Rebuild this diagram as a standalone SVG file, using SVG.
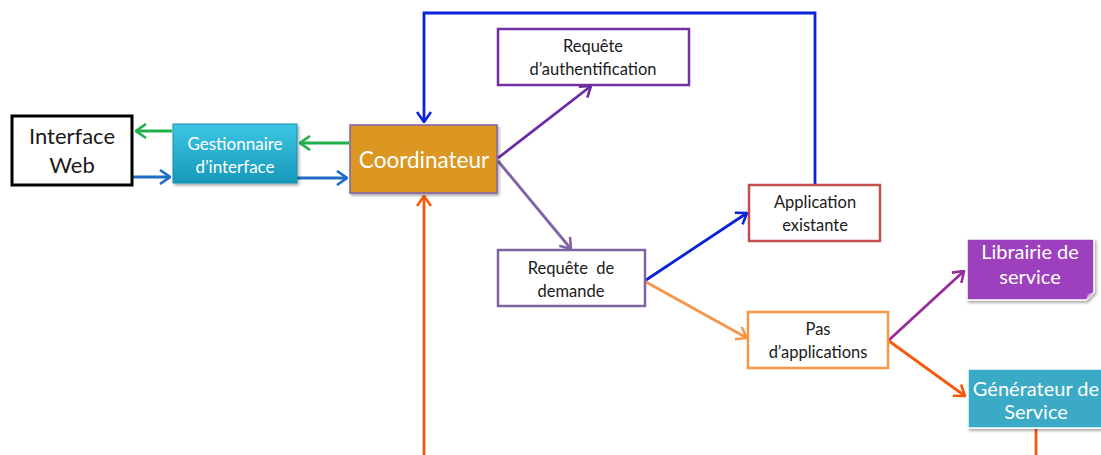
<svg xmlns="http://www.w3.org/2000/svg" width="1101" height="455" viewBox="0 0 1101 455">
  <defs>
    <style>
      text { font-family: Lato, "Open Sans", "Liberation Sans", sans-serif; text-anchor: middle; }
      .dark { fill: #1a1a1a; font-size: 16.5px; }
      .white { fill: #ffffff; }
      .box { fill: #ffffff; stroke-width: 2.5; }
      .edge { fill: none; stroke-width: 2.8; }
    </style>
    <linearGradient id="cyanGrad" x1="0" y1="0" x2="0" y2="1">
      <stop offset="0" stop-color="#3cc6e4"/>
      <stop offset="1" stop-color="#1898ba"/>
    </linearGradient>
    <filter id="shadow" x="-10%" y="-10%" width="130%" height="140%">
      <feDropShadow dx="1.5" dy="2" stdDeviation="1.8" flood-color="#000" flood-opacity="0.35"/>
    </filter>
    <marker id="aGreen" viewBox="0 0 12 16" markerWidth="12" markerHeight="16" refX="11" refY="8" orient="auto" markerUnits="userSpaceOnUse">
      <path d="M1,1 L11,8 L1,15" fill="none" stroke="#1fb04a" stroke-width="2.6"/>
    </marker>
    <marker id="aBlueMid" viewBox="0 0 12 16" markerWidth="12" markerHeight="16" refX="11" refY="8" orient="auto" markerUnits="userSpaceOnUse">
      <path d="M1,1 L11,8 L1,15" fill="none" stroke="#1f6cc4" stroke-width="2.6"/>
    </marker>
    <marker id="aBlue" viewBox="0 0 12 16" markerWidth="12" markerHeight="16" refX="11" refY="8" orient="auto" markerUnits="userSpaceOnUse">
      <path d="M1,1 L11,8 L1,15" fill="none" stroke="#0a22d8" stroke-width="2.6"/>
    </marker>
    <marker id="aPurple" viewBox="0 0 12 16" markerWidth="12" markerHeight="16" refX="11" refY="8" orient="auto" markerUnits="userSpaceOnUse">
      <path d="M1,1 L11,8 L1,15" fill="none" stroke="#6a2aa6" stroke-width="2.6"/>
    </marker>
    <marker id="aLavender" viewBox="0 0 12 16" markerWidth="12" markerHeight="16" refX="11" refY="8" orient="auto" markerUnits="userSpaceOnUse">
      <path d="M1,1 L11,8 L1,15" fill="none" stroke="#8062a8" stroke-width="2.6"/>
    </marker>
    <marker id="aOrangeLight" viewBox="0 0 12 16" markerWidth="12" markerHeight="16" refX="11" refY="8" orient="auto" markerUnits="userSpaceOnUse">
      <path d="M1,1 L11,8 L1,15" fill="none" stroke="#f79646" stroke-width="2.6"/>
    </marker>
    <marker id="aOrange" viewBox="0 0 12 16" markerWidth="12" markerHeight="16" refX="11" refY="8" orient="auto" markerUnits="userSpaceOnUse">
      <path d="M1,1 L11,8 L1,15" fill="none" stroke="#f55a0c" stroke-width="2.6"/>
    </marker>
    <marker id="aMagenta" viewBox="0 0 12 16" markerWidth="12" markerHeight="16" refX="11" refY="8" orient="auto" markerUnits="userSpaceOnUse">
      <path d="M1,1 L11,8 L1,15" fill="none" stroke="#982c9c" stroke-width="2.6"/>
    </marker>
  </defs>

  <rect width="1101" height="455" fill="#ffffff"/>

  <!-- connectors -->
  <g id="connectors">
    <line class="edge" x1="172" y1="131" x2="136" y2="131" stroke="#1fb04a" marker-end="url(#aGreen)"/>
    <line class="edge" x1="349" y1="143" x2="300" y2="143" stroke="#1fb04a" marker-end="url(#aGreen)"/>
    <line class="edge" x1="133" y1="177" x2="170" y2="177" stroke="#1f6cc4" marker-end="url(#aBlueMid)"/>
    <line class="edge" x1="297" y1="178" x2="347" y2="178" stroke="#1f6cc4" marker-end="url(#aBlueMid)"/>
    <polyline class="edge" points="815,185 815,13 424,13 424,122" stroke="#0a22d8" marker-end="url(#aBlue)"/>
    <line class="edge" x1="498" y1="158" x2="591" y2="86" stroke="#6a2aa6" marker-end="url(#aPurple)"/>
    <line class="edge" x1="498" y1="161" x2="571" y2="249" stroke="#8062a8" marker-end="url(#aLavender)"/>
    <line class="edge" x1="646" y1="280" x2="747" y2="213" stroke="#0a22d8" marker-end="url(#aBlue)"/>
    <line class="edge" x1="646" y1="282" x2="747" y2="338" stroke="#f79646" marker-end="url(#aOrangeLight)"/>
    <line class="edge" x1="889" y1="340" x2="964" y2="271" stroke="#982c9c" marker-end="url(#aMagenta)"/>
    <line class="edge" x1="889" y1="341" x2="965" y2="396" stroke="#f55a0c" marker-end="url(#aOrange)"/>
    <line class="edge" x1="424" y1="455" x2="424" y2="196" stroke="#f55a0c" marker-end="url(#aOrange)"/>
    <line class="edge" x1="1036" y1="429" x2="1036" y2="455" stroke="#f55a0c"/>
  </g>

  <!-- nodes -->
  <g id="interface-web">
    <rect x="12" y="116" width="120" height="69" fill="#ffffff" stroke="#000000" stroke-width="3"/>
    <text x="72" y="144" font-size="22" fill="#1a1a1a">Interface</text>
    <text x="72" y="173" font-size="22" fill="#1a1a1a">Web</text>
  </g>

  <g id="gestionnaire">
    <rect x="173" y="124" width="124" height="59" fill="url(#cyanGrad)" stroke="#1a8fae" stroke-width="1" filter="url(#shadow)"/>
    <text class="white" x="235" y="150" font-size="17">Gestionnaire</text>
    <text class="white" x="235" y="173" font-size="17">d’interface</text>
  </g>

  <g id="coordinateur">
    <rect x="350" y="125" width="147" height="68" fill="#dc9620" stroke="#7f62a8" stroke-width="1.5" filter="url(#shadow)"/>
    <text class="white" x="424" y="168" font-size="22.5">Coordinateur</text>
  </g>

  <g id="requete-auth">
    <rect class="box" x="498" y="29" width="191" height="56" stroke="#7030a0"/>
    <text class="dark" x="593" y="52">Requête</text>
    <text class="dark" x="593" y="75">d’authentification</text>
  </g>

  <g id="requete-demande">
    <rect class="box" x="498" y="250" width="147" height="56" stroke="#8064a2"/>
    <text class="dark" x="571" y="274" xml:space="preserve">Requête  de</text>
    <text class="dark" x="571" y="297">demande</text>
  </g>

  <g id="application-existante">
    <rect class="box" x="749" y="185" width="131" height="56" stroke="#c0504d"/>
    <text class="dark" x="815" y="208">Application</text>
    <text class="dark" x="815" y="231">existante</text>
  </g>

  <g id="pas-applications">
    <rect class="box" x="748" y="312" width="140" height="56" stroke="#f79646"/>
    <text class="dark" x="818" y="335">Pas</text>
    <text class="dark" x="818" y="358">d’applications</text>
  </g>

  <g id="librairie-service">
    <path d="M967,239 H1094 V292 L1086,300 H967 Z" fill="#9d3fbe" stroke="#ffffff" stroke-width="1.5" filter="url(#shadow)"/>
    <path d="M1086,300 L1088,294 L1094,292 Z" fill="#c69ad8"/>
    <text class="white" x="1030" y="259" font-size="20">Librairie de</text>
    <text class="white" x="1030" y="284" font-size="20">service</text>
  </g>

  <g id="generateur-service">
    <rect x="968" y="369" width="140" height="59" fill="#3aaac6" stroke="#ffffff" stroke-width="1.5" filter="url(#shadow)"/>
    <text class="white" x="1036" y="396" font-size="20">Générateur de</text>
    <text class="white" x="1036" y="419" font-size="20">Service</text>
  </g>
</svg>
